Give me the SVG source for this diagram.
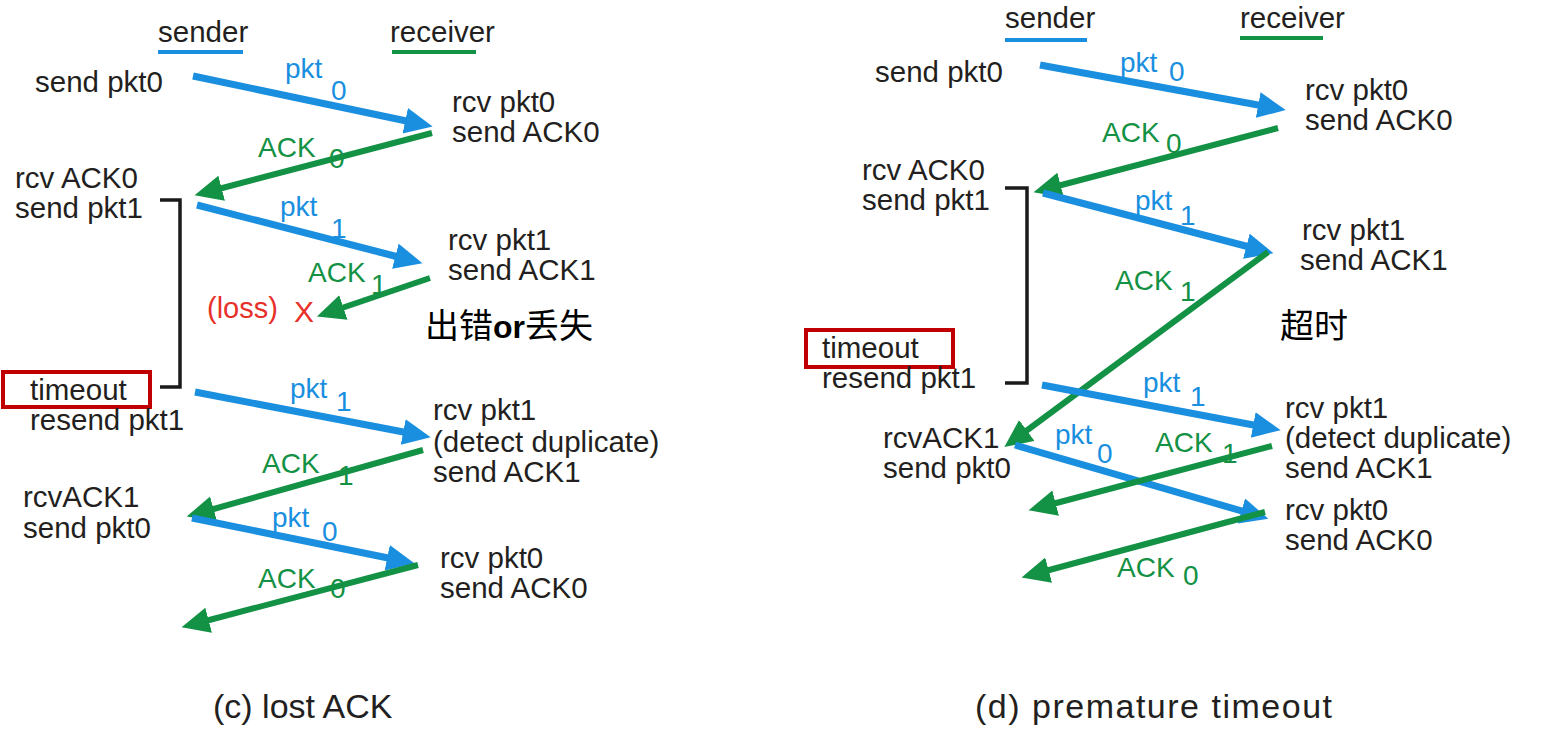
<svg xmlns="http://www.w3.org/2000/svg" width="1541" height="737" viewBox="0 0 1541 737">
<style>
.t{font-family:"Liberation Sans",Arial,sans-serif;font-size:29.5px;fill:#231f20}
.lb{font-family:"Liberation Sans",Arial,sans-serif;font-size:28px;fill:#1a8fe0}
.lg{font-family:"Liberation Sans",Arial,sans-serif;font-size:28px;fill:#139144}
.cap{font-family:"Liberation Sans",Arial,sans-serif;font-size:34px;fill:#231f20}
.cn{font-family:"Noto Sans CJK SC","Noto Sans",sans-serif;font-size:34px;fill:#000}
.b{stroke:#1a8fe0;stroke-width:7;fill:none}
.g{stroke:#139144;stroke-width:6;fill:none}
.br{stroke:#1a1a1a;stroke-width:3.5;fill:none}
.box{stroke:#c00000;stroke-width:4;fill:none}
</style>
<defs>
<marker id="ab" markerUnits="userSpaceOnUse" markerWidth="30" markerHeight="28" refX="11" refY="13" orient="auto"><path d="M0,0 L28,13 L0,26 z" fill="#1a8fe0"/></marker>
<marker id="ag" markerUnits="userSpaceOnUse" markerWidth="30" markerHeight="28" refX="11" refY="13" orient="auto"><path d="M0,0 L28,13 L0,26 z" fill="#139144"/></marker>
</defs>
<rect width="1541" height="737" fill="#fff"/>

<g id="legend-left">
<text class="t" x="158" y="42">sender</text>
<line x1="158" y1="52" x2="243" y2="52" stroke="#1a8fe0" stroke-width="4"/>
<text class="t" x="390" y="42">receiver</text>
<line x1="392" y1="52" x2="476" y2="52" stroke="#139144" stroke-width="4"/>
</g>
<g id="legend-right">
<text class="t" x="1005" y="28">sender</text>
<line x1="1005" y1="40" x2="1087" y2="40" stroke="#1a8fe0" stroke-width="4"/>
<text class="t" x="1240" y="28">receiver</text>
<line x1="1240" y1="38" x2="1323" y2="38" stroke="#139144" stroke-width="4"/>
</g>

<g id="connectors">
<line class="b" x1="193" y1="76" x2="416" y2="123" marker-end="url(#ab)"/>
<line class="g" x1="432" y1="133" x2="211" y2="191" marker-end="url(#ag)"/>
<line class="b" x1="197" y1="205" x2="406" y2="259" marker-end="url(#ab)"/>
<line class="g" x1="430" y1="278" x2="333" y2="311" marker-end="url(#ag)"/>
<line class="b" x1="195" y1="392" x2="414" y2="434" marker-end="url(#ab)"/>
<line class="g" x1="423" y1="450" x2="203" y2="512" marker-end="url(#ag)"/>
<line class="b" x1="192" y1="518" x2="398" y2="560" marker-end="url(#ab)"/>
<line class="g" x1="418" y1="565" x2="198" y2="623" marker-end="url(#ag)"/>
<polyline class="br" points="160,200 180,200 180,387 160,387"/>

<line class="b" x1="1040" y1="65" x2="1269" y2="107" marker-end="url(#ab)"/>
<line class="g" x1="1278" y1="128" x2="1050" y2="188" marker-end="url(#ag)"/>
<line class="b" x1="1043" y1="193" x2="1257" y2="249" marker-end="url(#ab)"/>
<line class="g" x1="1268" y1="252" x2="1018" y2="437" marker-end="url(#ag)"/>
<line class="b" x1="1042" y1="385" x2="1264" y2="427" marker-end="url(#ab)"/>
<line class="b" x1="1015" y1="445" x2="1252" y2="514" marker-end="url(#ab)"/>
<line class="g" x1="1272" y1="446" x2="1045" y2="506" marker-end="url(#ag)"/>
<line class="g" x1="1265" y1="512" x2="1038" y2="573" marker-end="url(#ag)"/>
<polyline class="br" points="1005,188 1027,188 1027,383 1005,383"/>
</g>

<g id="labels-left">
<text class="lb" x="285" y="78">pkt</text><text class="lb" x="331" y="100">0</text>
<text class="lg" x="258" y="157">ACK</text><text class="lg" x="329" y="168">0</text>
<text class="lb" x="280" y="216">pkt</text><text class="lb" x="331" y="238">1</text>
<text class="lg" x="308" y="282">ACK</text><text class="lg" x="371" y="294">1</text>
<text class="lb" x="290" y="398">pkt</text><text class="lb" x="336" y="411">1</text>
<text class="lg" x="262" y="473">ACK</text><text class="lg" x="338" y="485">1</text>
<text class="lb" x="272" y="527">pkt</text><text class="lb" x="322" y="541">0</text>
<text class="lg" x="258" y="588">ACK</text><text class="lg" x="330" y="598">0</text>
</g>

<g id="labels-right">
<text class="lb" x="1120" y="72">pkt</text><text class="lb" x="1169" y="81">0</text>
<text class="lg" x="1102" y="142">ACK</text><text class="lg" x="1166" y="153">0</text>
<text class="lb" x="1135" y="210">pkt</text><text class="lb" x="1180" y="225">1</text>
<text class="lg" x="1115" y="290">ACK</text><text class="lg" x="1180" y="301">1</text>
<text class="lb" x="1143" y="392">pkt</text><text class="lb" x="1190" y="406">1</text>
<text class="lb" x="1055" y="444">pkt</text><text class="lb" x="1097" y="463">0</text>
<text class="lg" x="1155" y="452">ACK</text><text class="lg" x="1222" y="463">1</text>
<text class="lg" x="1117" y="577">ACK</text><text class="lg" x="1183" y="585">0</text>
</g>

<g id="sender-left">
<text class="t" x="35" y="92">send pkt0</text>
<text class="t" x="15" y="188">rcv ACK0</text>
<text class="t" x="15" y="218">send pkt1</text>
<rect class="box" x="3" y="372" width="147" height="35"/>
<text class="t" x="30" y="400">timeout</text>
<text class="t" x="30" y="430">resend pkt1</text>
<text class="t" x="23" y="507">rcvACK1</text>
<text class="t" x="23" y="538">send pkt0</text>
</g>
<g id="receiver-left">
<text class="t" x="452" y="112">rcv pkt0</text>
<text class="t" x="452" y="142">send ACK0</text>
<text class="t" x="448" y="250">rcv pkt1</text>
<text class="t" x="448" y="280">send ACK1</text>
<text class="t" x="433" y="420">rcv pkt1</text>
<text class="t" x="433" y="452">(detect duplicate)</text>
<text class="t" x="433" y="482">send ACK1</text>
<text class="t" x="440" y="568">rcv pkt0</text>
<text class="t" x="440" y="598">send ACK0</text>
</g>
<g id="loss">
<text x="207" y="318" style="font-family:'Liberation Sans',Arial,sans-serif;font-size:29px;fill:#e8302a">(loss)</text>
<text x="294" y="322" style="font-family:'Liberation Sans',Arial,sans-serif;font-size:30px;fill:#e8302a">X</text>
<text class="cn" x="425" y="338">出错<tspan style="font-family:'Liberation Sans',Arial,sans-serif;font-weight:bold;font-size:32px">or</tspan>丢失</text>
</g>

<g id="sender-right">
<text class="t" x="875" y="82">send pkt0</text>
<text class="t" x="862" y="180">rcv ACK0</text>
<text class="t" x="862" y="210">send pkt1</text>
<rect class="box" x="806" y="330" width="147" height="37"/>
<text class="t" x="822" y="358">timeout</text>
<text class="t" x="822" y="388">resend pkt1</text>
<text class="t" x="883" y="448">rcvACK1</text>
<text class="t" x="883" y="478">send pkt0</text>
</g>
<g id="receiver-right">
<text class="t" x="1305" y="100">rcv pkt0</text>
<text class="t" x="1305" y="130">send ACK0</text>
<text class="t" x="1302" y="240">rcv pkt1</text>
<text class="t" x="1300" y="270">send ACK1</text>
<text class="cn" x="1280" y="338">超时</text>
<text class="t" x="1285" y="418">rcv pkt1</text>
<text class="t" x="1285" y="448">(detect duplicate)</text>
<text class="t" x="1285" y="478">send ACK1</text>
<text class="t" x="1285" y="520">rcv pkt0</text>
<text class="t" x="1285" y="550">send ACK0</text>
</g>

<g id="captions">
<text class="cap" x="213" y="718">(c) lost ACK</text>
<text class="cap" x="975" y="718" textLength="357" lengthAdjust="spacing">(d) premature timeout</text>
</g>
</svg>
